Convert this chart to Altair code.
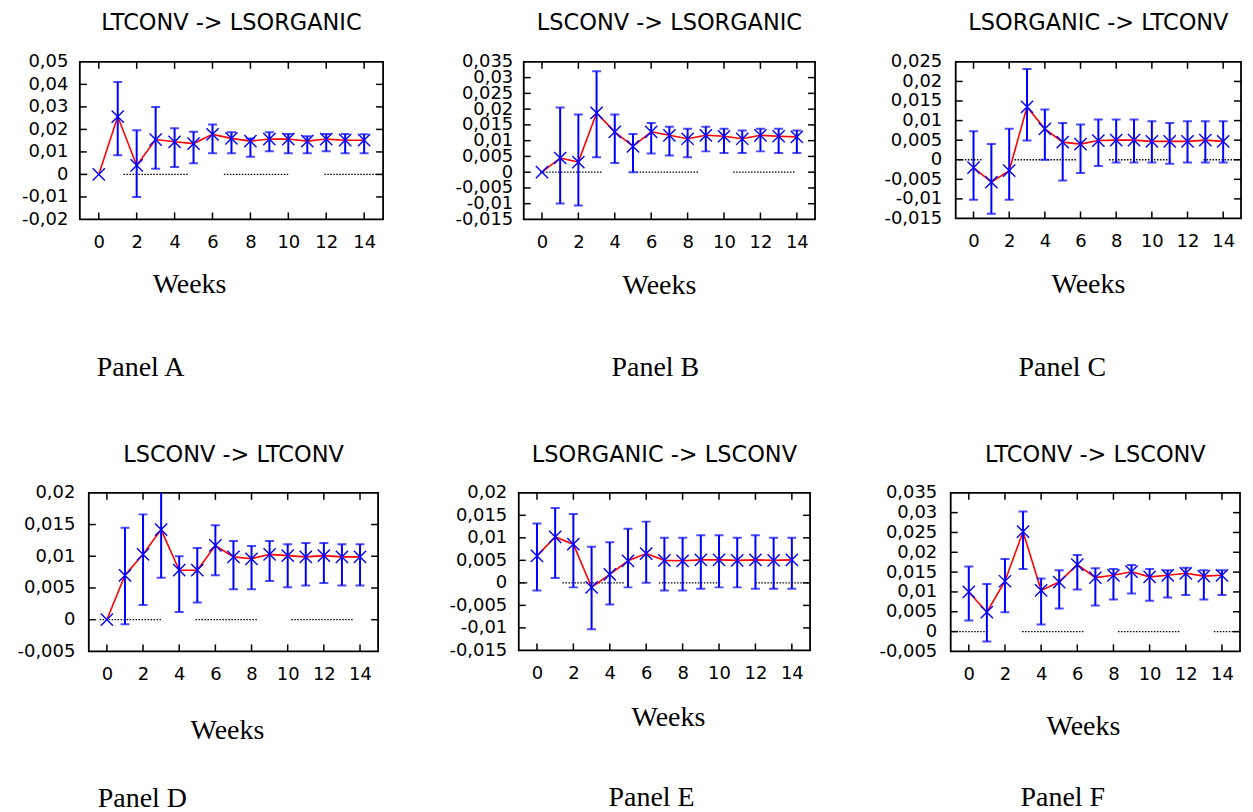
import altair as alt
import pandas as pd

weeks = list(range(15))
x_ticks = [0, 2, 4, 6, 8, 10, 12, 14]

# Panel A: LTCONV -> LSORGANIC
a_val = [0.0, 0.0257, 0.004, 0.0155, 0.0145, 0.0137, 0.0178, 0.016, 0.0148, 0.0157, 0.0157, 0.0148, 0.0157, 0.0152, 0.0152]
a_hi = [None, 0.041, 0.0196, 0.030, 0.0205, 0.019, 0.0222, 0.0187, 0.016, 0.0187, 0.018, 0.017, 0.018, 0.018, 0.0178]
a_lo = [None, 0.0085, -0.010, 0.0025, 0.0033, 0.005, 0.0094, 0.0094, 0.0078, 0.0103, 0.0094, 0.0094, 0.0103, 0.0094, 0.0094]
a_yticks = [-0.02, -0.01, 0.0, 0.01, 0.02, 0.03, 0.04, 0.05]

# Panel B: LSCONV -> LSORGANIC
b_val = [0.0, 0.0045, 0.0032, 0.0188, 0.0128, 0.0082, 0.0128, 0.0117, 0.0106, 0.0117, 0.0114, 0.0106, 0.0117, 0.0114, 0.0112]
b_hi = [None, 0.0205, 0.0183, 0.032, 0.0183, 0.0121, 0.0156, 0.0144, 0.0138, 0.0144, 0.0138, 0.0132, 0.0138, 0.0138, 0.0132]
b_lo = [None, -0.0099, -0.0106, 0.0047, 0.0029, 0.0, 0.0059, 0.0053, 0.0047, 0.0066, 0.0061, 0.0061, 0.0066, 0.0061, 0.0061]
b_yticks = [-0.015, -0.01, -0.005, 0.0, 0.005, 0.01, 0.015, 0.02, 0.025, 0.03, 0.035]

# Panel C: LSORGANIC -> LTCONV
c_val = [-0.002, -0.0057, -0.0028, 0.0135, 0.0079, 0.0045, 0.004, 0.0049, 0.005, 0.005, 0.0047, 0.0047, 0.0047, 0.005, 0.0047]
c_hi = [0.0073, 0.004, 0.0079, 0.0232, 0.0128, 0.0094, 0.009, 0.0103, 0.0103, 0.0103, 0.0098, 0.0094, 0.0098, 0.0098, 0.0098]
c_lo = [-0.0102, -0.0138, -0.0102, 0.0049, 0.0, -0.0053, -0.0034, -0.0016, -0.0007, -0.0007, -0.0007, -0.001, -0.0007, -0.0007, -0.0007]
c_yticks = [-0.015, -0.01, -0.005, 0.0, 0.005, 0.01, 0.015, 0.02, 0.025]

# Panel D: LSCONV -> LTCONV
d_val = [0.0, 0.007, 0.0103, 0.0142, 0.0078, 0.0078, 0.0117, 0.0099, 0.0096, 0.0103, 0.0101, 0.0099, 0.0101, 0.0099, 0.0099]
d_hi = [None, 0.0145, 0.0166, 0.0215, 0.01, 0.0113, 0.0149, 0.0124, 0.0116, 0.0124, 0.0119, 0.0121, 0.0121, 0.0119, 0.0119]
d_lo = [None, -0.0007, 0.0023, 0.0066, 0.0012, 0.0027, 0.007, 0.0048, 0.0048, 0.0061, 0.0051, 0.0054, 0.0058, 0.0054, 0.0054]
d_yticks = [-0.005, 0.0, 0.005, 0.01, 0.015, 0.02]

# Panel E: LSORGANIC -> LSCONV
e_val = [0.006, 0.0102, 0.0086, -0.001, 0.0019, 0.0049, 0.0065, 0.005, 0.0049, 0.0051, 0.0051, 0.005, 0.0051, 0.005, 0.0051]
e_hi = [0.0132, 0.0166, 0.0153, 0.008, 0.009, 0.012, 0.0136, 0.01, 0.01, 0.0106, 0.0106, 0.01, 0.0106, 0.01, 0.01]
e_lo = [-0.0017, 0.0011, -0.001, -0.0103, -0.0048, -0.001, 0.0, -0.0017, -0.0017, -0.0013, -0.001, -0.001, -0.0013, -0.0013, -0.0013]
e_yticks = [-0.015, -0.01, -0.005, 0.0, 0.005, 0.01, 0.015, 0.02]

# Panel F: LTCONV -> LSCONV
f_val = [0.01, 0.0049, 0.0127, 0.0252, 0.0104, 0.0125, 0.0169, 0.0136, 0.0142, 0.0151, 0.0138, 0.0142, 0.0147, 0.014, 0.0142]
f_hi = [0.0164, 0.012, 0.0183, 0.0303, 0.0134, 0.0155, 0.0193, 0.016, 0.0158, 0.0168, 0.0158, 0.0155, 0.0161, 0.0155, 0.0155]
f_lo = [0.0028, -0.0025, 0.0049, 0.0158, 0.0018, 0.0058, 0.0106, 0.0066, 0.0081, 0.0096, 0.0078, 0.0086, 0.0092, 0.0081, 0.0092]
f_yticks = [-0.005, 0.0, 0.005, 0.01, 0.015, 0.02, 0.025, 0.03, 0.035]

SANS = "DejaVu Sans"
SERIF = "Liberation Serif"
TICK_FS = 18
LABEL_EXPR = "replace(replace(format(datum.value, '~g'), '.', ','), '\u2212', '-')"


def dotted_pattern(u, start):
    n = int(round(3.45 * u / 3.0))
    period = 5.3 * u
    arr = [1.5, 1.5] * n
    arr[-1] = period - (n * 3.0) + 1.5
    total = sum(arr)
    p = (start + 1.0) * u
    off = (total - p) % total
    return arr, off


def panel(title, val, lo, hi, yticks, w, h, dash_start, weeks_pos, panel_pos, panel_name, title_y, ypad):
    df = pd.DataFrame({"week": weeks, "val": val, "lo": lo, "hi": hi})
    ymin, ymax = yticks[0], yticks[-1]
    xs = alt.Scale(domain=[-1, 15], nice=False, zero=False)
    ys = alt.Scale(domain=[ymin, ymax], nice=False, zero=False)
    xaxis = alt.Axis(values=x_ticks, ticks=False, tickSize=0, domain=False, grid=False,
                     labelFont=SANS, labelFontSize=TICK_FS, labelColor="black",
                     labelPadding=14, labelFlush=False, title=None)
    yaxis = alt.Axis(values=yticks, ticks=False, tickSize=0, domain=False, grid=False,
                     labelFont=SANS, labelFontSize=TICK_FS, labelColor="black",
                     labelPadding=ypad, labelOverlap=False, labelExpr=LABEL_EXPR, title=None)
    X = alt.X("week:Q", scale=xs, axis=xaxis)
    base = alt.Chart(df)

    u = w / 16.0
    dash, off = dotted_pattern(u, dash_start)
    zero = alt.Chart(pd.DataFrame({"z": [0.0]})).mark_rule(
        color="black", strokeWidth=1.3, strokeDash=dash, strokeDashOffset=off
    ).encode(y=alt.Y("z:Q", scale=ys, axis=yaxis), x=alt.value(0), x2=alt.value(w))

    line = base.mark_line(color="#ff0000", strokeWidth=1.6).encode(
        x=X, y=alt.Y("val:Q", scale=ys, axis=yaxis))
    bars = base.mark_rule(color="#0000ff", strokeWidth=2, clip=True).encode(
        x=X, y=alt.Y("lo:Q", scale=ys, axis=yaxis), y2="hi:Q")
    cap_hi = base.mark_tick(color="#0000ff", orient="horizontal", size=9, thickness=2, clip=True).encode(
        x=X, y=alt.Y("hi:Q", scale=ys, axis=yaxis))
    cap_lo = base.mark_tick(color="#0000ff", orient="horizontal", size=9, thickness=2, clip=True).encode(
        x=X, y=alt.Y("lo:Q", scale=ys, axis=yaxis))
    pts = base.mark_point(shape="M-1,-1L1,1M-1,1L1,-1", color="#0000ff", filled=False,
                          size=150, strokeWidth=1.4, opacity=1).encode(
        x=X, y=alt.Y("val:Q", scale=ys, axis=yaxis))

    ytk = alt.Chart(pd.DataFrame({"t": yticks[1:-1]}))
    xtk = alt.Chart(pd.DataFrame({"t": x_ticks}))
    tl = ytk.mark_rule(color="black", strokeWidth=1.5).encode(
        y=alt.Y("t:Q", scale=ys, axis=yaxis), x=alt.value(0), x2=alt.value(7))
    tr = ytk.mark_rule(color="black", strokeWidth=1.5).encode(
        y=alt.Y("t:Q", scale=ys, axis=yaxis), x=alt.value(w - 7), x2=alt.value(w))
    tb = xtk.mark_rule(color="black", strokeWidth=1.5).encode(
        x=alt.X("t:Q", scale=xs, axis=xaxis), y=alt.value(h - 7), y2=alt.value(h))
    tt = xtk.mark_rule(color="black", strokeWidth=1.5).encode(
        x=alt.X("t:Q", scale=xs, axis=xaxis), y=alt.value(0), y2=alt.value(7))

    one = alt.Chart(pd.DataFrame({"k": [0]}))
    ttl = one.mark_text(font=SANS, fontSize=22.5, color="black", baseline="middle", align="center").encode(
        x=alt.value(w / 2.0), y=alt.value(title_y), text=alt.value(title))
    wk = one.mark_text(font=SERIF, fontSize=28, color="black", baseline="middle", align="center").encode(
        x=alt.value(weeks_pos[0]), y=alt.value(h + weeks_pos[1]), text=alt.value("Weeks"))
    pn = one.mark_text(font=SERIF, fontSize=28, color="black", baseline="middle", align="left").encode(
        x=alt.value(panel_pos[0]), y=alt.value(h + panel_pos[1]), text=alt.value(panel_name))

    return alt.layer(zero, line, bars, cap_hi, cap_lo, pts, tl, tr, tb, tt, ttl, wk, pn).properties(
        width=w, height=h, view=alt.ViewBackground(stroke="black", strokeWidth=1.8, fill="white"))


pA = panel("LTCONV -> LSORGANIC", a_val, a_lo, a_hi, a_yticks, 304, 158, 1.3, (110, 66), (17, 149), "Panel A", -39, 12)
pB = panel("LSCONV -> LSORGANIC", b_val, b_lo, b_hi, b_yticks, 292, 158, -0.1, (136, 67), (88, 149), "Panel B", -39, 11)
pC = panel("LSORGANIC -> LTCONV", c_val, c_lo, c_hi, c_yticks, 286, 157, 2.3, (133, 67), (63, 150), "Panel C", -39, 14)
pD = panel("LSCONV -> LTCONV", d_val, d_lo, d_hi, d_yticks, 290, 159, -0.4, (139, 80), (9, 148), "Panel D", -38, 14)
pE = panel("LSORGANIC -> LSCONV", e_val, e_lo, e_hi, e_yticks, 292, 158, 1.4, (150, 68), (90, 148), "Panel E", -38, 12)
pF = panel("LTCONV -> LSCONV", f_val, f_lo, f_hi, f_yticks, 290, 159, 2.95, (133, 76), (70, 147), "Panel F", -38, 14)

# invisible spacer that shifts the second row a few pixels to the right
spacer = alt.Chart(pd.DataFrame({"k": [0]})).mark_text(opacity=0).encode(
    x=alt.value(0), y=alt.value(0), text=alt.value(" ")
).properties(width=1, height=1,
             view=alt.ViewBackground(stroke="transparent", strokeWidth=0, fill="transparent"))

row1 = alt.hconcat(pA, pB, pC, spacing=141, bounds="flush")
row2_inner = alt.hconcat(pD, pE, pF, spacing=141, bounds="flush")
row2 = alt.hconcat(spacer, row2_inner, spacing=8, bounds="flush")

chart = alt.vconcat(row1, row2, spacing=60, bounds="full",
                    padding={"left": 8, "top": 2, "right": 2, "bottom": 0}).configure_view(
    stroke="black", strokeWidth=1.8
).configure(background="white")

chart.save("out.html", embed_options={"renderer": "svg", "actions": False})
